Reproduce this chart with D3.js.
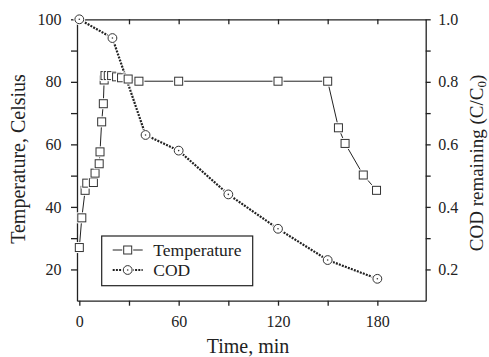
<!DOCTYPE html>
<html>
<head>
<meta charset="utf-8">
<script src="https://cdn.jsdelivr.net/npm/d3@7"></script>
<style>
  body { margin: 0; background: #fff; }
  svg { display: block; }
  .axis path, .axis line { stroke: #222; stroke-width: 1.3; }
</style>
</head>
<body>
<div id="chart"></div>
<script>
// --- data ---
const tempTime = [0, 1.5, 3.5, 4.5, 8.5, 9.5, 12, 12.5, 13.5, 14.5, 15, 15.5, 17.5, 19.5, 22.5, 25.5, 29.5, 36, 60, 120, 150, 156.5, 160.5, 171.5, 179.5];
const tempValues = [27, 36.5, 45.3, 47.6, 47.8, 50.8, 53.8, 57.6, 67.2, 73, 80.6, 82, 82, 82, 81.6, 81.3, 80.9, 80.2, 80.2, 80.2, 80.2, 65.3, 60.3, 50.2, 45.3];
const codTime = [0, 20, 40, 60, 90, 120, 150, 180];
const codValues = [1.0, 0.94, 0.63, 0.58, 0.44, 0.33, 0.23, 0.17];

const xTicks = [0, 30, 60, 90, 120, 150, 180];
const yLeftTicks = [20, 30, 40, 50, 60, 70, 80, 90, 100];
const yRightTicks = [0.2, 0.3, 0.4, 0.5, 0.6, 0.7, 0.8, 0.9, 1.0];

const SERIF = '"Liberation Serif", "Times New Roman", Times, serif';
const W = 489, H = 357;
const svg = d3.select('#chart').append('svg').attr('width', W).attr('height', H);

// plot frame
const pLeft = 77, pRight = 425.7, pTop = 19.3, pBottom = 300.7;

const x = d3.scaleLinear().domain([-1.4, 209.2]).range([pLeft, pRight]);
const yL = d3.scaleLinear().domain([10, 100]).range([pBottom, pTop]);
const yR = d3.scaleLinear().domain([0.1, 1.0]).range([pBottom, pTop]);

function styleAxis(g) {
  g.attr('font-family', null).attr('font-size', null);
  g.selectAll('text').style('font-family', SERIF).style('font-size', '16px').attr('fill', '#222');
}

// axes
svg.append('g').attr('class', 'axis')
  .attr('transform', `translate(0,${pBottom})`)
  .call(d3.axisBottom(x).tickValues(xTicks).tickSize(5).tickSizeOuter(0).tickPadding(9.5)
    .tickFormat(d => d % 60 === 0 ? d : ''))
  .call(styleAxis);

svg.append('g').attr('class', 'axis')
  .attr('transform', `translate(0,${pTop})`)
  .call(d3.axisBottom(x).tickValues(xTicks.filter(d => d > 0)).tickSize(5).tickSizeOuter(0).tickFormat(''));

svg.append('g').attr('class', 'axis')
  .attr('transform', `translate(${pLeft},0)`)
  .call(d3.axisLeft(yL).tickValues(yLeftTicks).tickSize(6).tickSizeOuter(0).tickPadding(9.5)
    .tickFormat(d => d % 20 === 0 ? d : ''))
  .call(styleAxis);

svg.append('g').attr('class', 'axis')
  .attr('transform', `translate(${pRight},0)`)
  .call(d3.axisRight(yR).tickValues(yRightTicks).tickSize(5).tickSizeOuter(0).tickPadding(7.5)
    .tickFormat(d => Math.round(d * 10) % 2 === 0 ? d3.format('.1f')(d) : ''))
  .call(styleAxis);

// axis titles
svg.append('text')
  .attr('x', 248).attr('y', 352.5)
  .attr('text-anchor', 'middle').style('font-family', SERIF).style('font-size', '20px').attr('fill', '#222')
  .text('Time, min');

svg.append('text')
  .attr('transform', 'translate(24.5,159) rotate(-90)')
  .attr('text-anchor', 'middle').style('font-family', SERIF).style('font-size', '20px').attr('fill', '#222')
  .text('Temperature, Celsius');

const rt = svg.append('text')
  .attr('transform', 'translate(482.5,163) rotate(-90)')
  .attr('text-anchor', 'middle').style('font-family', SERIF).style('font-size', '19px').attr('fill', '#222');
rt.append('tspan').text('COD remaining (C/C');
rt.append('tspan').style('font-size', '13px').attr('dy', 3).text('0');
rt.append('tspan').attr('dy', -3).text(')');

// --- series ---
const tempData = tempTime.map((t, i) => ({ t, v: tempValues[i] }));
const codData = codTime.map((t, i) => ({ t, v: codValues[i] }));

const tempLine = d3.line().x(d => x(d.t)).y(d => yL(d.v));
const codLine = d3.line().x(d => x(d.t)).y(d => yR(d.v));

svg.append('path').datum(tempData)
  .attr('d', tempLine).attr('fill', 'none').attr('stroke', '#222').attr('stroke-width', 1);

svg.append('path').datum(codData)
  .attr('d', codLine).attr('fill', 'none').attr('stroke', '#222')
  .attr('stroke-width', 2.2).attr('stroke-dasharray', '2,1.2');

// markers with a white halo so lines stop short of them
function square(g, cx, cy) {
  g.append('rect').attr('x', cx - 5.5).attr('y', cy - 5.5).attr('width', 11).attr('height', 11).attr('fill', '#fff');
  g.append('rect').attr('x', cx - 4).attr('y', cy - 4).attr('width', 8).attr('height', 8)
    .attr('fill', '#fff').attr('stroke', '#333').attr('stroke-width', 1);
}
function circle(g, cx, cy) {
  g.append('circle').attr('cx', cx).attr('cy', cy).attr('r', 5.8).attr('fill', '#fff');
  g.append('circle').attr('cx', cx).attr('cy', cy).attr('r', 4.4)
    .attr('fill', '#fff').attr('stroke', '#333').attr('stroke-width', 1);
  g.append('circle').attr('cx', cx).attr('cy', cy).attr('r', 0.8).attr('fill', '#333');
}

const gTemp = svg.append('g');
tempData.forEach(d => square(gTemp, x(d.t), yL(d.v)));

const gCod = svg.append('g');
codData.forEach(d => circle(gCod, x(d.t), yR(d.v)));

// --- legend ---
const lg = svg.append('g');
lg.append('rect').attr('x', 101.7).attr('y', 236).attr('width', 151).attr('height', 49.7)
  .attr('fill', '#fff').attr('stroke', '#222').attr('stroke-width', 1.2);
lg.append('line').attr('x1', 112.7).attr('x2', 142.7).attr('y1', 250).attr('y2', 250)
  .attr('stroke', '#222').attr('stroke-width', 1);
square(lg, 127.7, 250);
lg.append('text').attr('x', 153.3).attr('y', 255.5)
  .style('font-family', SERIF).style('font-size', '17.5px').attr('fill', '#222').text('Temperature');
lg.append('line').attr('x1', 112.7).attr('x2', 142.7).attr('y1', 270).attr('y2', 270)
  .attr('stroke', '#222').attr('stroke-width', 2.2).attr('stroke-dasharray', '2,1.2');
circle(lg, 127.7, 270);
lg.append('text').attr('x', 153.3).attr('y', 275.5)
  .style('font-family', SERIF).style('font-size', '17.5px').attr('fill', '#222').text('COD');
</script>
</body>
</html>
